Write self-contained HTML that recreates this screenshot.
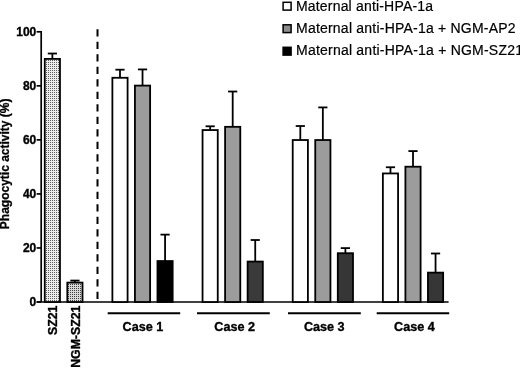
<!DOCTYPE html>
<html><head><meta charset="utf-8"><style>
html,body{margin:0;padding:0;background:#fff;}
body{width:520px;height:368px;overflow:hidden;}
svg{display:block;filter:grayscale(1);}
text{font-family:"Liberation Sans",sans-serif;fill:#000;}
.tk{font-size:12px;font-weight:bold;stroke:#000;stroke-width:0.35px;}
.cs{font-size:12.6px;font-weight:bold;stroke:#000;stroke-width:0.35px;}
.xl{font-size:12.3px;font-weight:bold;stroke:#000;stroke-width:0.35px;}
.yt{font-size:12px;font-weight:bold;stroke:#000;stroke-width:0.3px;}
.lg{font-size:14px;stroke:#000;stroke-width:0.2px;}
</style></head><body>
<svg width="520" height="368" viewBox="0 0 520 368">
<defs>
<pattern id="dots" x="0" y="0" width="2" height="2" patternUnits="userSpaceOnUse">
<rect width="2" height="2" fill="#ececec"/><rect width="1" height="1" fill="#606060"/>
</pattern>
<pattern id="dots2" x="0" y="0" width="2" height="2" patternUnits="userSpaceOnUse">
<rect width="2" height="2" fill="#d8d8d8"/><rect width="1" height="1" fill="#404040"/>
</pattern>
</defs>
<rect width="520" height="368" fill="#fff"/>
<line x1="41.2" y1="31.0" x2="41.2" y2="302" stroke="#000" stroke-width="1.7"/>
<line x1="36.6" y1="302" x2="448.6" y2="302" stroke="#000" stroke-width="1.7"/>
<line x1="36.6" y1="302.00" x2="41.2" y2="302.00" stroke="#000" stroke-width="1.7"/>
<text x="36.3" y="306.20" class="tk" text-anchor="end">0</text>
<line x1="36.6" y1="247.96" x2="41.2" y2="247.96" stroke="#000" stroke-width="1.7"/>
<text x="36.3" y="252.16" class="tk" text-anchor="end">20</text>
<line x1="36.6" y1="193.92" x2="41.2" y2="193.92" stroke="#000" stroke-width="1.7"/>
<text x="36.3" y="198.12" class="tk" text-anchor="end">40</text>
<line x1="36.6" y1="139.88" x2="41.2" y2="139.88" stroke="#000" stroke-width="1.7"/>
<text x="36.3" y="144.08" class="tk" text-anchor="end">60</text>
<line x1="36.6" y1="85.84" x2="41.2" y2="85.84" stroke="#000" stroke-width="1.7"/>
<text x="36.3" y="90.04" class="tk" text-anchor="end">80</text>
<line x1="36.6" y1="31.80" x2="41.2" y2="31.80" stroke="#000" stroke-width="1.7"/>
<text x="36.3" y="36.00" class="tk" text-anchor="end">100</text>
<line x1="97.5" y1="29.2" x2="97.5" y2="301" stroke="#000" stroke-width="2" stroke-dasharray="7.3 5.2"/>
<line x1="107.7" y1="313.2" x2="180.2" y2="313.2" stroke="#000" stroke-width="2"/>
<line x1="197.0" y1="313.2" x2="269.8" y2="313.2" stroke="#000" stroke-width="2"/>
<line x1="288.0" y1="313.2" x2="360.8" y2="313.2" stroke="#000" stroke-width="2"/>
<line x1="376.7" y1="313.2" x2="449.2" y2="313.2" stroke="#000" stroke-width="2"/>
<text x="142.9" y="331.2" class="cs" text-anchor="middle">Case 1</text>
<text x="234.6" y="331.2" class="cs" text-anchor="middle">Case 2</text>
<text x="324.3" y="331.2" class="cs" text-anchor="middle">Case 3</text>
<text x="414.4" y="331.2" class="cs" text-anchor="middle">Case 4</text>
<text transform="translate(57.4,305.6) rotate(-90)" class="xl" text-anchor="end">SZ21</text>
<text transform="translate(80.2,305.6) rotate(-90)" class="xl" text-anchor="end">NGM-SZ21</text>
<text transform="translate(8.7,229.2) rotate(-90)" class="yt">Phagocytic activity (%)</text>
<rect x="283.1" y="2.30" width="8" height="7.8" fill="#fff" stroke="#000" stroke-width="1.5"/>
<text x="296.0" y="10.50" class="lg" textLength="137.0" lengthAdjust="spacing">Maternal anti-HPA-1a</text>
<rect x="283.1" y="24.80" width="8" height="7.8" fill="#8c8c8c" stroke="#000" stroke-width="1.5"/>
<text x="296.0" y="32.90" class="lg" textLength="219.6" lengthAdjust="spacing">Maternal anti-HPA-1a + NGM-AP2</text>
<rect x="283.1" y="47.30" width="8" height="7.8" fill="#000" stroke="#000" stroke-width="1.5"/>
<text x="296.0" y="55.30" class="lg" textLength="227.0" lengthAdjust="spacing">Maternal anti-HPA-1a + NGM-SZ21</text>
<line x1="52.37" y1="58.91" x2="52.37" y2="53.52" stroke="#000" stroke-width="1.8"/>
<line x1="47.77" y1="53.52" x2="56.97" y2="53.52" stroke="#000" stroke-width="1.8"/>
<rect x="44.77" y="58.91" width="15.20" height="243.09" fill="url(#dots)" stroke="#000" stroke-width="1.8"/>
<line x1="74.91" y1="282.60" x2="74.91" y2="280.57" stroke="#000" stroke-width="1.8"/>
<line x1="70.31" y1="280.57" x2="79.51" y2="280.57" stroke="#000" stroke-width="1.8"/>
<rect x="67.31" y="282.60" width="15.20" height="19.40" fill="url(#dots2)" stroke="#000" stroke-width="1.8"/>
<line x1="119.99" y1="77.78" x2="119.99" y2="69.69" stroke="#000" stroke-width="1.8"/>
<line x1="115.39" y1="69.69" x2="124.59" y2="69.69" stroke="#000" stroke-width="1.8"/>
<rect x="112.39" y="77.78" width="15.20" height="224.22" fill="#fff" stroke="#000" stroke-width="1.8"/>
<line x1="142.53" y1="85.59" x2="142.53" y2="69.42" stroke="#000" stroke-width="1.8"/>
<line x1="137.93" y1="69.42" x2="147.13" y2="69.42" stroke="#000" stroke-width="1.8"/>
<rect x="134.93" y="85.59" width="15.20" height="216.41" fill="#9c9c9c" stroke="#000" stroke-width="1.8"/>
<line x1="165.07" y1="261.04" x2="165.07" y2="234.62" stroke="#000" stroke-width="1.8"/>
<line x1="160.47" y1="234.62" x2="169.67" y2="234.62" stroke="#000" stroke-width="1.8"/>
<rect x="157.47" y="261.04" width="15.20" height="40.96" fill="#000" stroke="#000" stroke-width="1.8"/>
<line x1="210.15" y1="130.06" x2="210.15" y2="126.29" stroke="#000" stroke-width="1.8"/>
<line x1="205.55" y1="126.29" x2="214.75" y2="126.29" stroke="#000" stroke-width="1.8"/>
<rect x="202.55" y="130.06" width="15.20" height="171.94" fill="#fff" stroke="#000" stroke-width="1.8"/>
<line x1="232.69" y1="126.83" x2="232.69" y2="91.52" stroke="#000" stroke-width="1.8"/>
<line x1="228.09" y1="91.52" x2="237.29" y2="91.52" stroke="#000" stroke-width="1.8"/>
<rect x="225.09" y="126.83" width="15.20" height="175.17" fill="#9c9c9c" stroke="#000" stroke-width="1.8"/>
<line x1="255.23" y1="261.57" x2="255.23" y2="240.01" stroke="#000" stroke-width="1.8"/>
<line x1="250.63" y1="240.01" x2="259.83" y2="240.01" stroke="#000" stroke-width="1.8"/>
<rect x="247.63" y="261.57" width="15.20" height="40.43" fill="#3a3a3a" stroke="#000" stroke-width="1.8"/>
<line x1="300.31" y1="140.03" x2="300.31" y2="126.02" stroke="#000" stroke-width="1.8"/>
<line x1="295.71" y1="126.02" x2="304.91" y2="126.02" stroke="#000" stroke-width="1.8"/>
<rect x="292.71" y="140.03" width="15.20" height="161.97" fill="#fff" stroke="#000" stroke-width="1.8"/>
<line x1="322.85" y1="140.03" x2="322.85" y2="107.42" stroke="#000" stroke-width="1.8"/>
<line x1="318.25" y1="107.42" x2="327.45" y2="107.42" stroke="#000" stroke-width="1.8"/>
<rect x="315.25" y="140.03" width="15.20" height="161.97" fill="#9c9c9c" stroke="#000" stroke-width="1.8"/>
<line x1="345.39" y1="253.22" x2="345.39" y2="248.10" stroke="#000" stroke-width="1.8"/>
<line x1="340.79" y1="248.10" x2="349.99" y2="248.10" stroke="#000" stroke-width="1.8"/>
<rect x="337.79" y="253.22" width="15.20" height="48.78" fill="#363636" stroke="#000" stroke-width="1.8"/>
<line x1="390.47" y1="173.45" x2="390.47" y2="167.25" stroke="#000" stroke-width="1.8"/>
<line x1="385.87" y1="167.25" x2="395.07" y2="167.25" stroke="#000" stroke-width="1.8"/>
<rect x="382.87" y="173.45" width="15.20" height="128.55" fill="#fff" stroke="#000" stroke-width="1.8"/>
<line x1="413.01" y1="166.71" x2="413.01" y2="151.08" stroke="#000" stroke-width="1.8"/>
<line x1="408.41" y1="151.08" x2="417.61" y2="151.08" stroke="#000" stroke-width="1.8"/>
<rect x="405.41" y="166.71" width="15.20" height="135.29" fill="#9c9c9c" stroke="#000" stroke-width="1.8"/>
<line x1="435.55" y1="272.62" x2="435.55" y2="253.49" stroke="#000" stroke-width="1.8"/>
<line x1="430.95" y1="253.49" x2="440.15" y2="253.49" stroke="#000" stroke-width="1.8"/>
<rect x="427.95" y="272.62" width="15.20" height="29.38" fill="#363636" stroke="#000" stroke-width="1.8"/>
</svg>
</body></html>
